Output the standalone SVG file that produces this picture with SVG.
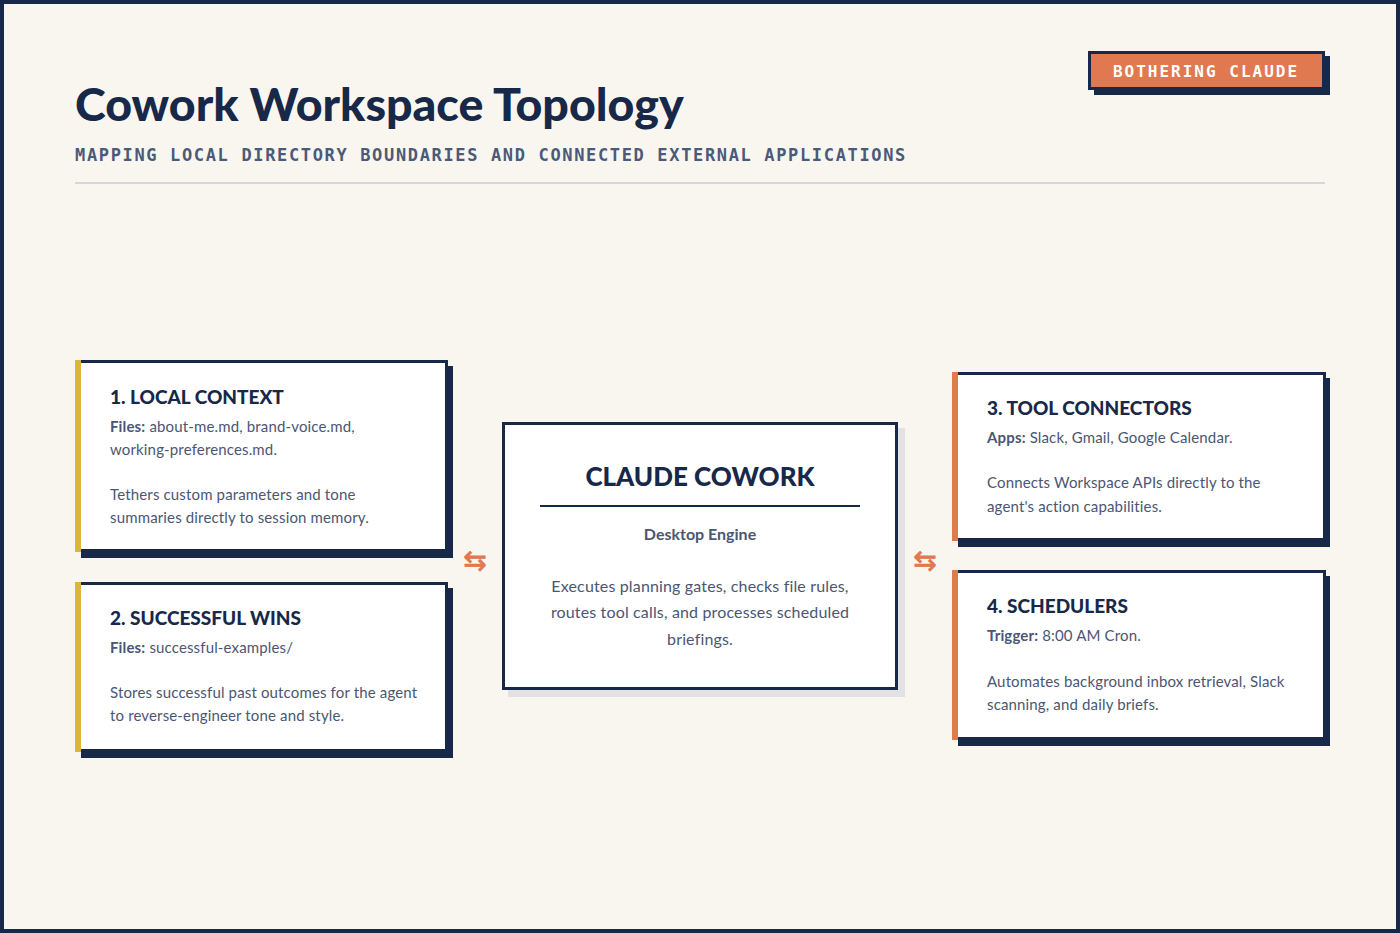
<svg xmlns="http://www.w3.org/2000/svg" width="1400" height="933" viewBox="0 0 1400 933">
<style>
.sans{font-family:Lato,"Noto Sans","Liberation Sans",sans-serif}
.mono{font-family:"DejaVu Sans Mono","Liberation Mono",monospace;font-weight:bold}
.title{font-size:46.5px;font-weight:900;fill:#172849;letter-spacing:0}
.sub{font-size:17px;fill:#4b5a78;letter-spacing:1.65px}
.ctitle{font-size:19px;font-weight:900;fill:#172849}
.body{font-size:15px;fill:#4b5673;letter-spacing:0.15px}
.lbl{font-weight:bold}
.card{fill:#ffffff;stroke:#172849;stroke-width:3}
.shadow{fill:#172849}
.arrow{font-family:"DejaVu Sans",sans-serif;font-size:28px;fill:#e07850;stroke:#e07850;stroke-width:0.7}
</style>
<rect x="0" y="0" width="1400" height="933" fill="#f9f6f0"/>
<rect x="2" y="2" width="1396" height="929" fill="none" stroke="#172849" stroke-width="4"/>

<g id="header">
<text class="sans title" x="75" y="121">Cowork Workspace Topology</text>
<text class="mono sub" x="75" y="161">MAPPING LOCAL DIRECTORY BOUNDARIES AND CONNECTED EXTERNAL APPLICATIONS</text>
<line x1="75" y1="183" x2="1325" y2="183" stroke="#d6d6da" stroke-width="2"/>
</g>

<g id="badge">
<rect x="1094" y="56" width="236" height="39" fill="#172849"/>
<rect x="1089.5" y="52.5" width="234" height="36" fill="#e07850" stroke="#172849" stroke-width="3"/>
<text class="mono" x="1206" y="77" text-anchor="middle" font-size="16" fill="#ffffff" letter-spacing="2">BOTHERING CLAUDE</text>
</g>

<g id="node-local-context">
<rect class="shadow" x="81" y="366" width="372" height="192"/>
<rect class="card" x="76.5" y="361.5" width="370" height="189"/>
<rect x="75" y="360" width="6" height="192" fill="#e3b23c"/>
<text class="sans ctitle" x="110" y="404">1. LOCAL CONTEXT</text>
<text class="sans body" x="110" y="432"><tspan class="lbl">Files:</tspan> about-me.md, brand-voice.md,</text>
<text class="sans body" x="110" y="455">working-preferences.md.</text>
<text class="sans body" x="110" y="500">Tethers custom parameters and tone</text>
<text class="sans body" x="110" y="523">summaries directly to session memory.</text>
</g>

<g id="node-successful-wins">
<rect class="shadow" x="81" y="588" width="372" height="170"/>
<rect class="card" x="76.5" y="583.5" width="370" height="167"/>
<rect x="75" y="582" width="6" height="170" fill="#e3b23c"/>
<text class="sans ctitle" x="110" y="625">2. SUCCESSFUL WINS</text>
<text class="sans body" x="110" y="653"><tspan class="lbl">Files:</tspan> successful-examples/</text>
<text class="sans body" x="110" y="698">Stores successful past outcomes for the agent</text>
<text class="sans body" x="110" y="721">to reverse-engineer tone and style.</text>
</g>

<g id="node-claude-cowork">
<rect x="508" y="428" width="397" height="269" fill="#e2e2e2"/>
<rect class="card" x="503.5" y="423.5" width="393" height="265"/>
<text class="sans" x="700" y="486" text-anchor="middle" font-size="26" font-weight="900" fill="#172849">CLAUDE COWORK</text>
<line x1="540" y1="506" x2="860" y2="506" stroke="#172849" stroke-width="2"/>
<text class="sans" x="700" y="540" text-anchor="middle" font-size="16" font-weight="bold" fill="#4b5673">Desktop Engine</text>
<text class="sans" x="700" y="592" text-anchor="middle" font-size="16" fill="#4b5673" letter-spacing="0.15">Executes planning gates, checks file rules,</text>
<text class="sans" x="700" y="618" text-anchor="middle" font-size="16" fill="#4b5673" letter-spacing="0.15">routes tool calls, and processes scheduled</text>
<text class="sans" x="700" y="645" text-anchor="middle" font-size="16" fill="#4b5673" letter-spacing="0.15">briefings.</text>
</g>

<g id="node-tool-connectors">
<rect class="shadow" x="958" y="378" width="372" height="169"/>
<rect class="card" x="953.5" y="373.5" width="371" height="166"/>
<rect x="952" y="372" width="6" height="169" fill="#e07850"/>
<text class="sans ctitle" x="987" y="415">3. TOOL CONNECTORS</text>
<text class="sans body" x="987" y="443"><tspan class="lbl">Apps:</tspan> Slack, Gmail, Google Calendar.</text>
<text class="sans body" x="987" y="488">Connects Workspace APIs directly to the</text>
<text class="sans body" x="987" y="512">agent's action capabilities.</text>
</g>

<g id="node-schedulers">
<rect class="shadow" x="958" y="576" width="372" height="170"/>
<rect class="card" x="953.5" y="571.5" width="371" height="167"/>
<rect x="952" y="570" width="6" height="170" fill="#e07850"/>
<text class="sans ctitle" x="987" y="613">4. SCHEDULERS</text>
<text class="sans body" x="987" y="641"><tspan class="lbl">Trigger:</tspan> 8:00 AM Cron.</text>
<text class="sans body" x="987" y="687">Automates background inbox retrieval, Slack</text>
<text class="sans body" x="987" y="710">scanning, and daily briefs.</text>
</g>

<g id="connectors">
<text class="arrow" x="475" y="570" text-anchor="middle">⇆</text>
<text class="arrow" x="925" y="570" text-anchor="middle">⇆</text>
</g>
</svg>
